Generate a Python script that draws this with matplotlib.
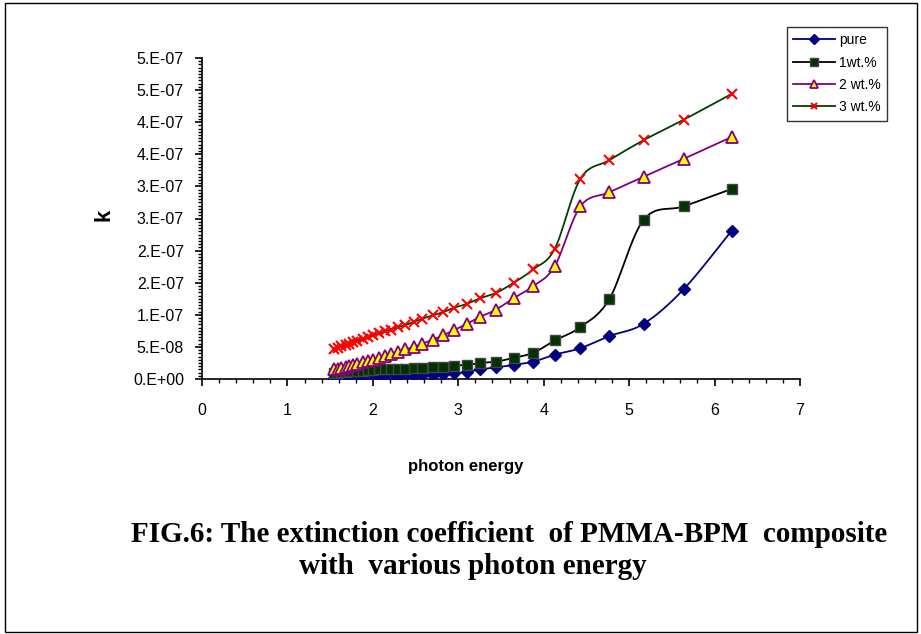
import numpy as np
import matplotlib
matplotlib.use('Agg')
import matplotlib.pyplot as plt
from matplotlib.lines import Line2D
from matplotlib.patches import Rectangle
from matplotlib.ticker import MultipleLocator

# photon energy (eV)
energy = [1.55, 1.59, 1.63, 1.68, 1.72, 1.77, 1.82, 1.88, 1.94, 2.00, 2.07,
          2.14, 2.21, 2.30, 2.38, 2.48, 2.58, 2.70, 2.82, 2.95, 3.10, 3.26,
          3.44, 3.65, 3.88, 4.13, 4.43, 4.77, 5.17, 5.64, 6.20]

# extinction coefficient k, in units of 1e-7
k_pure = [0.02, 0.02, 0.02, 0.02, 0.03, 0.03, 0.03, 0.03, 0.04, 0.04, 0.04,
          0.05, 0.05, 0.05, 0.06, 0.06, 0.07, 0.07, 0.08, 0.09, 0.11, 0.15,
          0.18, 0.22, 0.27, 0.38, 0.48, 0.67, 0.86, 1.40, 2.31]
k_1wt = [0.10, 0.10, 0.11, 0.11, 0.12, 0.12, 0.13, 0.13, 0.14, 0.14, 0.15,
         0.15, 0.15, 0.16, 0.16, 0.17, 0.17, 0.19, 0.19, 0.21, 0.22, 0.25,
         0.27, 0.33, 0.41, 0.60, 0.81, 1.25, 2.48, 2.69, 2.96]
k_2wt = [0.15, 0.16, 0.17, 0.19, 0.20, 0.22, 0.24, 0.26, 0.28, 0.30, 0.33,
         0.36, 0.39, 0.42, 0.46, 0.50, 0.55, 0.61, 0.68, 0.76, 0.86, 0.97,
         1.08, 1.26, 1.45, 1.76, 2.69, 2.91, 3.15, 3.43, 3.77]
k_3wt = [0.47, 0.49, 0.51, 0.53, 0.55, 0.57, 0.59, 0.62, 0.65, 0.68, 0.71,
         0.74, 0.77, 0.81, 0.84, 0.89, 0.94, 0.99, 1.04, 1.11, 1.17, 1.26,
         1.34, 1.50, 1.71, 2.03, 3.12, 3.41, 3.72, 4.04, 4.44]

labels = ['pure', '1wt.%', '2 wt.%', '3 wt.%']
ytick_labels = ['0.E+00', '5.E-08', '1.E-07', '2.E-07', '2.E-07', '3.E-07',
                '3.E-07', '4.E-07', '4.E-07', '5.E-07', '5.E-07']

plt.rcParams['font.family'] = ['Liberation Sans', 'DejaVu Sans']


def smooth(x, y, n=14):
    # excel-like smoothed line (bezier through the points), done in pixel space
    sx, sy = 7.0 / 598, 5e-7 / 321
    p = np.column_stack([np.asarray(x) / sx, np.asarray(y) / sy])
    pts = [p[0]]
    t = np.linspace(0, 1, n)[1:, None]
    for i in range(len(p) - 1):
        p0 = p[i - 1] if i > 0 else p[i]
        p3 = p[i + 2] if i + 2 < len(p) else p[i + 1]
        b1 = p[i] + (p[i + 1] - p0) / 6
        b2 = p[i + 1] - (p3 - p[i]) / 6
        seg = (1 - t)**3 * p[i] + 3 * (1 - t)**2 * t * b1 + 3 * (1 - t) * t**2 * b2 + t**3 * p[i + 1]
        pts.extend(seg)
    pts = np.array(pts)
    return pts[:, 0] * sx, pts[:, 1] * sy


W, H = 921, 634
fig = plt.figure(figsize=(W / 100, H / 100), dpi=100)
fig.patches.append(Rectangle((5 / W, 2 / H), (W - 9) / W, (H - 5) / H, transform=fig.transFigure,
                             fill=False, edgecolor='black', linewidth=1.0))
ax = fig.add_axes([202 / W, 1 - 379 / H, 598 / W, 321 / H])

styles = [
    dict(line='#000080', marker='D', ms=6.5, mfc='#000080', mec='#000080', mew=1.0),
    dict(line='black', marker='s', ms=7, mfc='#003300', mec='#444444', mew=1.0),
    dict(line='#800080', marker='^', ms=8.5, mfc='#ffff00', mec='#800080', mew=1.3),
    dict(line='#004000', marker='x', ms=6.5, mfc='red', mec='red', mew=1.5),
]
series = [k_pure, k_1wt, k_2wt, k_3wt]
x = np.array(energy)
handles = []
for ys, st, lab in zip(series, styles, labels):
    y = np.array(ys) * 1e-7
    xs, yss = smooth(x, y)
    ax.plot(xs, yss, color=st['line'], lw=1.3, zorder=2)
    ax.plot(x, y, ls='none', marker=st['marker'], ms=st['ms'], mfc=st['mfc'],
            mec=st['mec'], mew=st['mew'], zorder=3)
    handles.append(Line2D([], [], color=st['line'], lw=1.3, marker=st['marker'],
                          ms=st['ms'] * 0.75, mfc=st['mfc'], mec=st['mec'], mew=st['mew'], label=lab))

ax.set_xlim(0, 7)
ax.set_ylim(0, 5e-7)
ax.xaxis.set_major_locator(MultipleLocator(1))
ax.xaxis.set_minor_locator(MultipleLocator(0.2))
ax.set_yticks(np.arange(11) * 5e-8)
ax.set_yticklabels(ytick_labels)
ax.yaxis.set_minor_locator(MultipleLocator(5e-9))
for s in ['top', 'right']:
    ax.spines[s].set_visible(False)
for s in ['left', 'bottom']:
    ax.spines[s].set_linewidth(1.2)
ax.tick_params(which='major', direction='out', length=5, width=1.2, labelsize=11.5, pad=8)
ax.tick_params(which='minor', direction='out', length=3, width=1.0)
ax.tick_params(axis='x', which='major', pad=12)

fig.text(466 / W, 1 - 467 / H, 'photon energy', ha='center', va='center',
         fontsize=12, fontweight='bold')
fig.text(104 / W, 1 - 215 / H, 'k', ha='center', va='center', rotation=90,
         fontsize=16, fontweight='bold')

leg = fig.legend(handles=handles, loc='upper left', bbox_to_anchor=(787 / W, 1 - 27 / H),
                 fontsize=10, frameon=True, fancybox=False, handlelength=3.0,
                 handletextpad=0.3, labelspacing=0.6, borderpad=0.45, borderaxespad=0)
leg.get_frame().set_edgecolor('black')
leg.get_frame().set_linewidth(1.0)

fig.text(509 / W, 1 - 534 / H, 'FIG.6: The extinction coefficient  of PMMA-BPM  composite',
         ha='center', va='center', fontsize=21, fontweight='bold', family='Liberation Serif')
fig.text(473 / W, 1 - 566 / H, 'with  various photon energy',
         ha='center', va='center', fontsize=21, fontweight='bold', family='Liberation Serif')

fig.savefig('out.png', dpi=100)
